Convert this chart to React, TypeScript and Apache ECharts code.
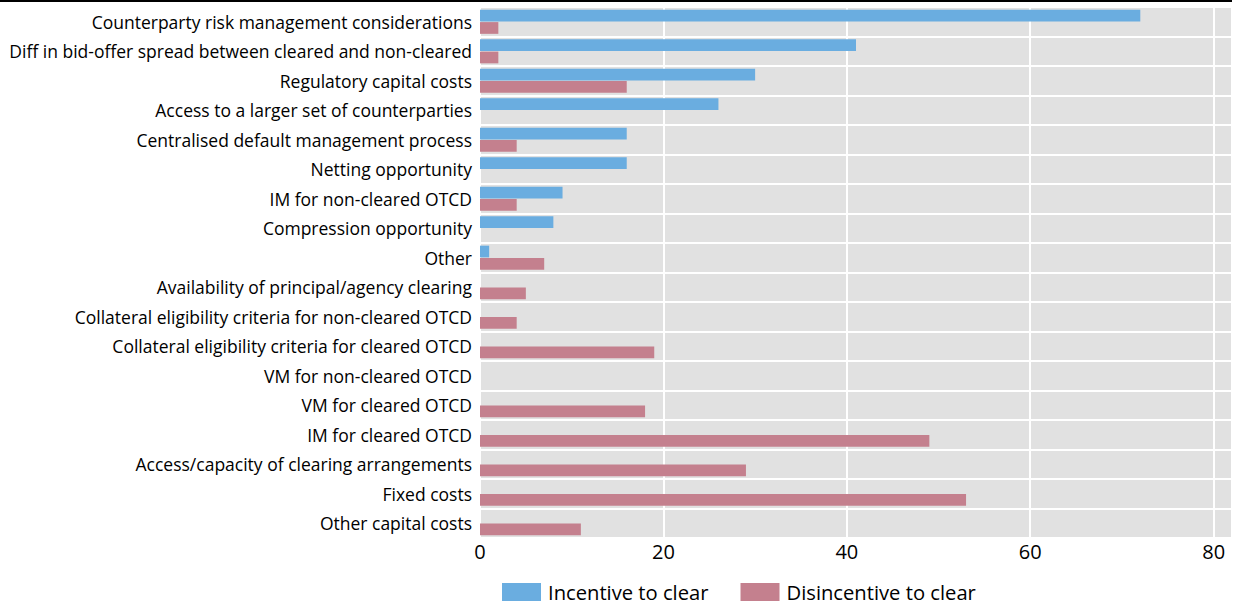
import React, { useEffect, useRef } from "react";
import * as echarts from "echarts";

const categories = [
  "Counterparty risk management considerations",
  "Diff in bid-offer spread between cleared and non-cleared",
  "Regulatory capital costs",
  "Access to a larger set of counterparties",
  "Centralised default management process",
  "Netting opportunity",
  "IM for non-cleared OTCD",
  "Compression opportunity",
  "Other",
  "Availability of principal/agency clearing",
  "Collateral eligibility criteria for non-cleared OTCD",
  "Collateral eligibility criteria for cleared OTCD",
  "VM for non-cleared OTCD",
  "VM for cleared OTCD",
  "IM for cleared OTCD",
  "Access/capacity of clearing arrangements",
  "Fixed costs",
  "Other capital costs",
];

const incentive = [72, 41, 30, 26, 16, 16, 9, 8, 1, 0, 0, 0, 0, 0, 0, 0, 0, 0];
const disincentive = [2, 2, 16, 0, 4, 0, 4, 0, 7, 5, 4, 19, 0, 18, 49, 29, 53, 11];

const seriesNames = ["Incentive to clear", "Disincentive to clear"];
const xTicks = { min: 0, max: 82, interval: 20 };

const FONT = "'Open Sans', 'Noto Sans', sans-serif";

export default function App() {
  const ref = useRef<HTMLDivElement>(null);
  useEffect(() => {
    document.body.style.margin = "0";
    const chart = echarts.init(ref.current!, null, { renderer: "svg" });
    chart.setOption({
      animation: false,
      backgroundColor: "#ffffff",
      textStyle: { fontFamily: FONT },
      graphic: [
        { type: "rect", left: 0, top: 0, shape: { width: 1232, height: 2 }, style: { fill: "#000" } },
      ],
      grid: { left: 480, right: 2, top: 7, bottom: 68, containLabel: false, show: true, backgroundColor: "#e1e1e1", borderWidth: 0 },
      legend: {
        bottom: -1,
        left: 497,
        itemWidth: 39,
        itemHeight: 18,
        itemGap: 32,
        icon: "rect",
        textStyle: { fontSize: 20.2, color: "#000", fontFamily: FONT, padding: [0, 0, 0, 2] },
        data: seriesNames,
      },
      xAxis: {
        type: "value",
        min: xTicks.min,
        max: xTicks.max,
        interval: xTicks.interval,
        axisLine: { show: false },
        axisTick: { show: false },
        axisLabel: { fontSize: 20, color: "#000", margin: 3, showMaxLabel: false, fontFamily: FONT },
        splitLine: { show: true, lineStyle: { color: "#ffffff", width: 2 } },
      },
      yAxis: {
        type: "category",
        data: categories,
        inverse: true,
        axisLine: { show: false },
        axisTick: { show: false },
        axisLabel: { fontSize: 17.5, color: "#000", margin: 8, fontFamily: FONT, interval: 0, padding: [0, 0, 6, 0] },
        splitLine: { show: true, lineStyle: { color: "#ffffff", width: 2 } },
      },
      series: [
        {
          name: seriesNames[0],
          type: "bar",
          data: incentive,
          itemStyle: { color: "#6aade0" },
          barCategoryGap: "18%",
          barGap: "6%",
        },
        {
          name: seriesNames[1],
          type: "bar",
          data: disincentive,
          itemStyle: { color: "#c4808e" },
          barCategoryGap: "18%",
          barGap: "6%",
        },
      ],
    });
    return () => chart.dispose();
  }, []);
  return <div ref={ref} style={{ width: 1234, height: 606 }} />;
}
